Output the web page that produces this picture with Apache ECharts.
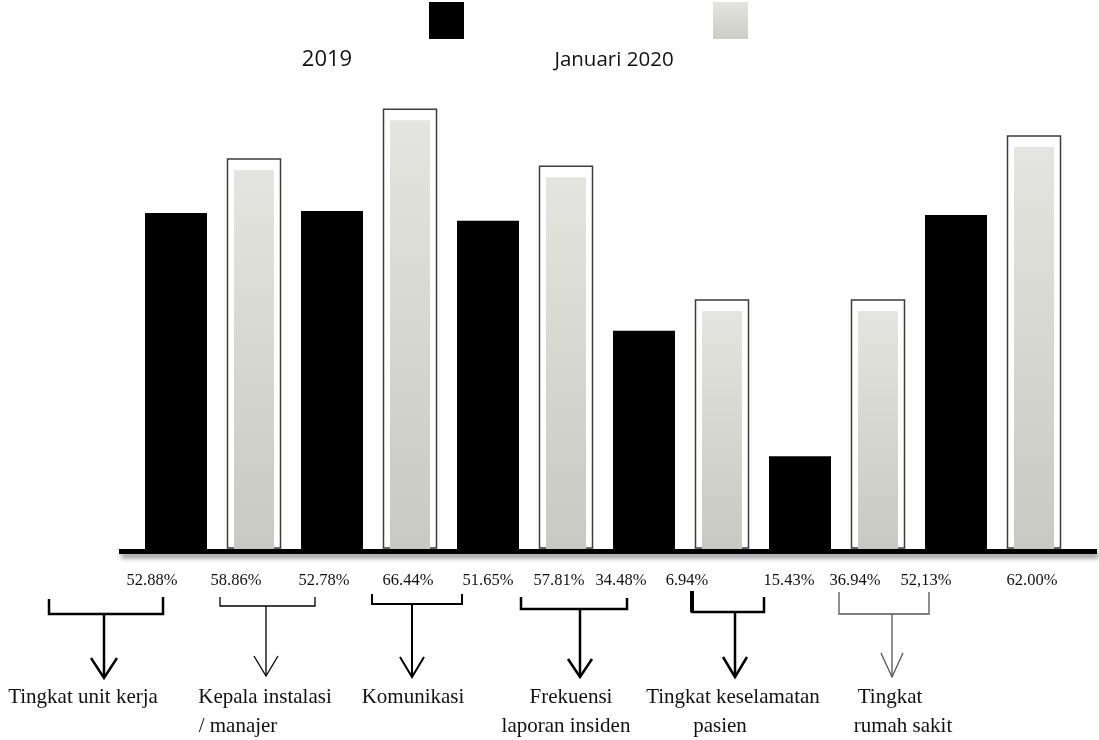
<!DOCTYPE html>
<html>
<head>
<meta charset="utf-8">
<script src="https://cdn.jsdelivr.net/npm/echarts/dist/echarts.min.js"></script>
<style>
  html, body { margin: 0; padding: 0; background: #fff; }
  #chart { width: 1099px; height: 740px; }
</style>
</head>
<body>
<div id="chart"></div>
<script>
// values (percent)
const years = ['2019', 'Januari 2020']
const categories = ['b1', 'b2', 'b3', 'b4', 'b5', 'b6', 'b7', 'b8', 'b9', 'b10', 'b11', 'b12']
const values2019 = [52.5, null, 52.8, null, 51.3, null, 34.1, null, 14.5, null, 52.2, null]
const valuesJan2020 = [null, 59.2, null, 67.0, null, 58.1, null, 37.2, null, 37.2, null, 62.8]
const valueLabels = ['52.88%', '58.86%', '52.78%', '66.44%', '51.65%', '57.81%', '34.48%', '6.94%', '15.43%', '36.94%', '52,13%', '62.00%']
const groupNames = [
  ['Tingkat unit kerja'],
  ['Kepala instalasi', '/ manajer'],
  ['Komunikasi'],
  ['Frekuensi', 'laporan insiden'],
  ['Tingkat keselamatan', 'pasien'],
  ['Tingkat', 'rumah sakit']
]

// layout of the annotation under the axis (pixels)
const labelX = [152, 236, 324, 408, 488, 559, 621, 687, 789, 855, 926, 1032]
const nameX = [[83], [265, 238], [413], [571, 566], [733, 720], [890, 903]]
const brackets = [
  { l: 49, lTop: 599, r: 163, rTop: 597, y: 614, stem: 104, tip: 678, hw: 13, ah: 20, lw: 2.5, color: '#000' },
  { l: 220, lTop: 597, r: 315, rTop: 597, y: 606, stem: 266, tip: 676, hw: 12, ah: 20, lw: 1.3, color: '#000' },
  { l: 372, lTop: 594, r: 462, rTop: 594, y: 604, stem: 412, tip: 677, hw: 12, ah: 20, lw: 2, color: '#000' },
  { l: 521, lTop: 597, r: 627, rTop: 598, y: 609, stem: 580, tip: 677, hw: 12, ah: 18, lw: 2.5, color: '#000' },
  { l: 692, lTop: 591, r: 764, rTop: 597, y: 612, stem: 735, tip: 677, hw: 12, ah: 20, lw: 2.5, color: '#000', lThick: 4 },
  { l: 839, lTop: 592, r: 929, rTop: 592, y: 614, stem: 892, tip: 677, hw: 11, ah: 24, lw: 1.3, color: '#555' }
]

const grayFill = new echarts.graphic.LinearGradient(0, 0, 0, 1, [
  { offset: 0, color: '#e4e4e0' },
  { offset: 1, color: '#c9c9c3' }
])

const graphic = []
// legend
graphic.push({ type: 'rect', shape: { x: 429, y: 2, width: 35, height: 37 }, style: { fill: '#000' } })
graphic.push({ type: 'rect', shape: { x: 713, y: 2, width: 35, height: 37 }, style: { fill: new echarts.graphic.LinearGradient(0, 0, 0, 1, [
  { offset: 0, color: '#e3e3df' }, { offset: 1, color: '#cdcdc8' }]) } })
graphic.push({ type: 'text', x: 327, y: 60, style: { text: years[0], font: '22px "Open Sans"', fill: '#111', align: 'center', verticalAlign: 'middle' } })
graphic.push({ type: 'text', x: 614, y: 60, style: { text: years[1], font: '20.5px "Open Sans"', fill: '#111', align: 'center', verticalAlign: 'middle' } })
// thick base line with shadow
graphic.push({ type: 'line', shape: { x1: 119, y1: 551.5, x2: 1097, y2: 551.5 },
  style: { stroke: '#000', lineWidth: 5, shadowBlur: 5, shadowOffsetY: 4, shadowOffsetX: 2, shadowColor: 'rgba(0,0,0,0.45)' } })
// value labels
valueLabels.forEach((t, i) => {
  graphic.push({ type: 'text', x: labelX[i], y: 581, style: { text: t, font: '16.5px "Liberation Serif"', fill: '#111', align: 'center', verticalAlign: 'middle' } })
})
// brackets and arrows
brackets.forEach(b => {
  graphic.push({ type: 'polyline', shape: { points: [[b.l, b.lTop], [b.l, b.y], [b.r, b.y], [b.r, b.rTop]] },
    style: { stroke: b.color, lineWidth: b.lw, fill: null } })
  if (b.lThick) {
    graphic.push({ type: 'line', shape: { x1: b.l, y1: b.lTop, x2: b.l, y2: b.y }, style: { stroke: b.color, lineWidth: b.lThick } })
  }
  graphic.push({ type: 'line', shape: { x1: b.stem, y1: b.y, x2: b.stem, y2: b.tip }, style: { stroke: b.color, lineWidth: b.lw } })
  graphic.push({ type: 'polyline', shape: { points: [[b.stem - b.hw, b.tip - b.ah], [b.stem, b.tip], [b.stem + b.hw, b.tip - b.ah]] },
    style: { stroke: b.color, lineWidth: b.lw, fill: null } })
})
// group names
groupNames.forEach((lines, g) => {
  lines.forEach((t, k) => {
    graphic.push({ type: 'text', x: nameX[g][k], y: 697 + k * 29, style: { text: t, font: '21px "Liberation Serif"', fill: '#111', align: 'center', verticalAlign: 'middle' } })
  })
})

const janData = valuesJan2020.map((v, i) => [i, v]).filter(d => d[1] != null)

const chart = echarts.init(document.getElementById('chart'))
chart.setOption({
  animation: false,
  backgroundColor: '#fff',
  grid: { left: 137, right: 26, top: 101, bottom: 191 },
  xAxis: {
    type: 'category',
    data: categories,
    axisLine: { show: false },
    axisTick: { show: false },
    axisLabel: { show: false }
  },
  yAxis: {
    type: 'value',
    min: 0,
    max: 70,
    show: false,
    splitLine: { show: false }
  },
  series: [
    {
      name: years[0],
      type: 'bar',
      barWidth: 62,
      data: values2019.map(v => v == null ? '-' : v),
      itemStyle: { color: '#000' }
    },
    {
      name: years[1],
      type: 'custom',
      encode: { x: 0, y: 1 },
      data: janData,
      renderItem (params, api) {
        const top = api.coord([api.value(0), api.value(1)])
        const base = api.coord([api.value(0), 0])
        const x = top[0]
        return {
          type: 'group',
          children: [
            {
              type: 'rect',
              shape: { x: x - 26.5, y: top[1] - 11, width: 53, height: base[1] - top[1] + 10 },
              style: { fill: '#fff', stroke: '#3c3c3c', lineWidth: 1.5 }
            },
            {
              type: 'rect',
              shape: { x: x - 20, y: top[1], width: 40, height: base[1] - top[1] },
              style: { fill: grayFill }
            }
          ]
        }
      }
    }
  ],
  graphic
})
</script>
</body>
</html>
